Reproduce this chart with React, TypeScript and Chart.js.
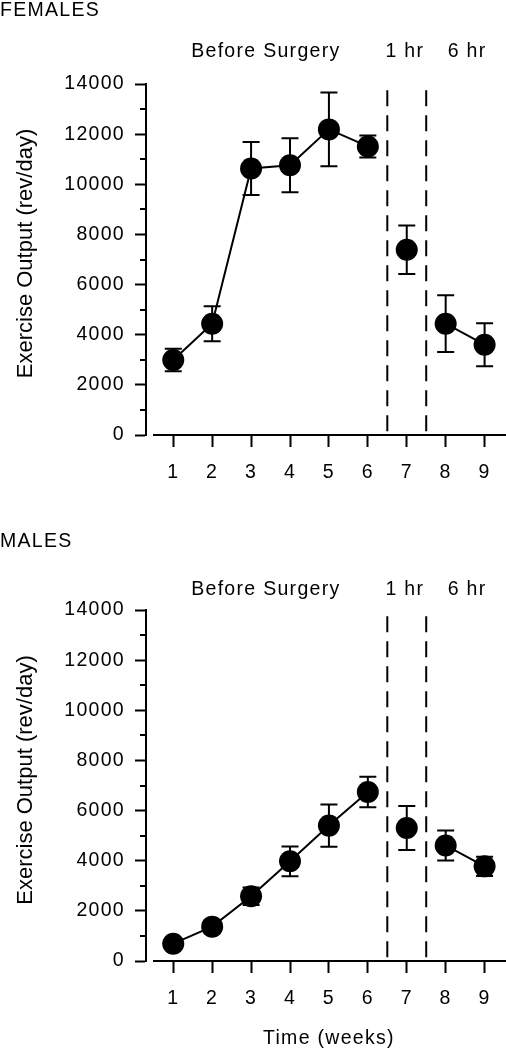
import React, { useEffect, useRef } from 'react';
import { Chart, registerables } from 'chart.js';

Chart.register(...registerables);

// ---------- data ----------
const weeks = [1, 2, 3, 4, 5, 6, 7, 8, 9];
const phases = ['before', 'before', 'before', 'before', 'before', 'before', '1hr', '6hr', '6hr'];
const phaseLabels = ['Before Surgery', '1 hr', '6 hr'];
const surgeryBoundaries = [6.5, 7.5];
const yTicks = [0, 2000, 4000, 6000, 8000, 10000, 12000, 14000];
const yMinorTicks = [1000, 3000, 5000, 7000, 9000, 11000, 13000];

const femalesMean = [2990, 4440, 10630, 10760, 12190, 11510, 7390, 4440, 3600];
const femalesSem = [450, 700, 1060, 1080, 1470, 440, 970, 1130, 860];
const malesMean = [690, 1370, 2580, 3975, 5400, 6740, 5305, 4610, 3775];
const malesSem = [180, 260, 350, 590, 840, 610, 880, 600, 380];

const yTitle = 'Exercise Output (rev/day)';
const xTitle = 'Time (weeks)';

// ---------- styling / layout ----------
const FONT = "'Liberation Sans', Arial, Helvetica, sans-serif";
const FS = 19.5;
const LS = '1.3px';
const W = 506;
const H = 525;
const X_MIN = 0.3;
const X_MAX = 9.55;
const X_AXIS_START = 0.48;
const DASH_TOP = 13750;
const HEADER_X = [3.38, 6.95, 8.55];
const X_TITLE_AT = 5;

type Panel = {
  title: string;
  mean: number[];
  sem: number[];
  areaTop: number;
  areaBottom: number;
  titleBaseline: number;
  headerBaseline: number;
  yTitleCenter: number;
  showXTitle: boolean;
  xTitleBaseline: number;
};

const panels: Panel[] = [
  {
    title: 'FEMALES',
    mean: femalesMean,
    sem: femalesSem,
    areaTop: 84,
    areaBottom: 435,
    titleBaseline: 16,
    headerBaseline: 57,
    yTitleCenter: 253.5,
    showXTitle: false,
    xTitleBaseline: 0,
  },
  {
    title: 'MALES',
    mean: malesMean,
    sem: malesSem,
    areaTop: 85,
    areaBottom: 436,
    titleBaseline: 21.5,
    headerBaseline: 70,
    yTitleCenter: 255,
    showXTitle: true,
    xTitleBaseline: 518.5,
  },
];

function makePlugin(panel: Panel) {
  return {
    id: 'decor',
    beforeLayout(chart: any) {
      chart.ctx.letterSpacing = LS;
    },
    beforeDraw(chart: any) {
      chart.ctx.letterSpacing = LS;
    },
    beforeDatasetsDraw(chart: any) {
      const { ctx } = chart;
      const y = chart.scales.y;
      const meta = chart.getDatasetMeta(0);
      ctx.save();
      ctx.strokeStyle = '#000';
      ctx.lineWidth = 2;
      ctx.beginPath();
      meta.data.forEach((pt: any, i: number) => {
        const m = panel.mean[i];
        const s = panel.sem[i];
        const top = y.getPixelForValue(m + s);
        const bot = y.getPixelForValue(m - s);
        ctx.moveTo(pt.x, top);
        ctx.lineTo(pt.x, bot);
        ctx.moveTo(pt.x - 8.5, top);
        ctx.lineTo(pt.x + 8.5, top);
        ctx.moveTo(pt.x - 8.5, bot);
        ctx.lineTo(pt.x + 8.5, bot);
      });
      ctx.stroke();
      ctx.restore();
    },
    afterDraw(chart: any) {
      const { ctx, chartArea } = chart;
      const x = chart.scales.x;
      const y = chart.scales.y;
      ctx.save();
      ctx.strokeStyle = '#000';
      ctx.lineWidth = 2;
      ctx.beginPath();
      ctx.moveTo(x.getPixelForValue(X_AXIS_START), chartArea.bottom);
      ctx.lineTo(W, chartArea.bottom);
      yMinorTicks.forEach((v) => {
        const py = Math.round(y.getPixelForValue(v));
        ctx.moveTo(chartArea.left - 6, py);
        ctx.lineTo(chartArea.left, py);
      });
      ctx.stroke();

      ctx.fillStyle = '#000';
      ctx.letterSpacing = LS;
      ctx.font = `${FS}px ${FONT}`;
      ctx.textBaseline = 'alphabetic';
      ctx.textAlign = 'left';
      ctx.fillText(panel.title, 0, panel.titleBaseline);
      ctx.textAlign = 'center';
      phaseLabels.forEach((t, i) => {
        ctx.fillText(t, x.getPixelForValue(HEADER_X[i]), panel.headerBaseline);
      });
      if (panel.showXTitle) {
        ctx.fillText(xTitle, x.getPixelForValue(X_TITLE_AT), panel.xTitleBaseline);
      }
      ctx.letterSpacing = '0px';
      ctx.font = `22px ${FONT}`;
      ctx.translate(31.5, panel.yTitleCenter);
      ctx.rotate(-Math.PI / 2);
      ctx.textAlign = 'center';
      ctx.fillText(yTitle, 0, 0);
      ctx.restore();
      ctx.letterSpacing = LS;
    },
  };
}

function makeConfig(panel: Panel): any {
  const tickFont = { family: FONT, size: FS, lineHeight: 1.2 };
  return {
    type: 'line',
    data: {
      datasets: [
        {
          data: weeks.map((w, i) => ({ x: w, y: panel.mean[i] })),
          borderColor: '#000',
          borderWidth: 2,
          pointRadius: 11,
          pointHoverRadius: 11,
          pointBackgroundColor: '#000',
          pointBorderColor: '#000',
          pointBorderWidth: 0,
          tension: 0,
          clip: false,
          segment: {
            borderColor: (c: any) =>
              phases[c.p0DataIndex] === phases[c.p1DataIndex] ? '#000' : 'rgba(0,0,0,0)',
          },
        },
        ...surgeryBoundaries.map((b) => ({
          data: [
            { x: b, y: DASH_TOP },
            { x: b, y: 0 },
          ],
          borderColor: '#000',
          borderWidth: 2,
          borderDash: [16, 9],
          pointRadius: 0,
          pointHoverRadius: 0,
        })),
      ],
    },
    options: {
      responsive: false,
      animation: false,
      devicePixelRatio: 1,
      events: [],
      layout: {
        autoPadding: false,
        padding: { top: panel.areaTop, left: 0, right: 0, bottom: 0 },
      },
      plugins: {
        legend: { display: false },
        title: { display: false },
        tooltip: { enabled: false },
      },
      scales: {
        x: {
          type: 'linear',
          min: X_MIN,
          max: X_MAX,
          afterBuildTicks: (s: any) => {
            s.ticks = weeks.map((v) => ({ value: v }));
          },
          afterFit: (s: any) => {
            s.height = H - panel.areaBottom;
            s.paddingLeft = 0;
            s.paddingRight = 0;
          },
          grid: {
            drawOnChartArea: false,
            drawTicks: true,
            tickLength: 12,
            tickWidth: 2,
            tickColor: '#000',
          },
          border: { display: false },
          ticks: {
            padding: 14,
            color: '#000',
            font: tickFont,
            maxRotation: 0,
            autoSkip: false,
            callback: (v: any) => String(v),
          },
        },
        y: {
          type: 'linear',
          min: 0,
          max: 14000,
          afterBuildTicks: (s: any) => {
            s.ticks = yTicks.map((v) => ({ value: v }));
          },
          afterFit: (s: any) => {
            s.width = 146;
          },
          grid: {
            drawOnChartArea: false,
            drawTicks: true,
            tickLength: 11,
            tickWidth: 2,
            tickColor: '#000',
          },
          border: { display: true, color: '#000', width: 2 },
          ticks: {
            padding: 10,
            color: '#000',
            font: tickFont,
            autoSkip: false,
            callback: (v: any) => String(v),
          },
        },
      },
    },
    plugins: [makePlugin(panel)],
  };
}

function PanelChart({ panel }: { panel: Panel }) {
  const ref = useRef<HTMLCanvasElement>(null);
  useEffect(() => {
    if (!ref.current) return;
    const chart = new Chart(ref.current, makeConfig(panel));
    return () => chart.destroy();
  }, [panel]);
  return (
    <canvas
      ref={ref}
      width={W}
      height={H}
      style={{ display: 'block', width: `${W}px`, height: `${H}px` }}
    />
  );
}

export default function App() {
  useEffect(() => {
    document.body.style.margin = '0';
  }, []);
  return (
    <div style={{ width: W, background: '#fff' }}>
      {panels.map((p) => (
        <PanelChart key={p.title} panel={p} />
      ))}
    </div>
  );
}
